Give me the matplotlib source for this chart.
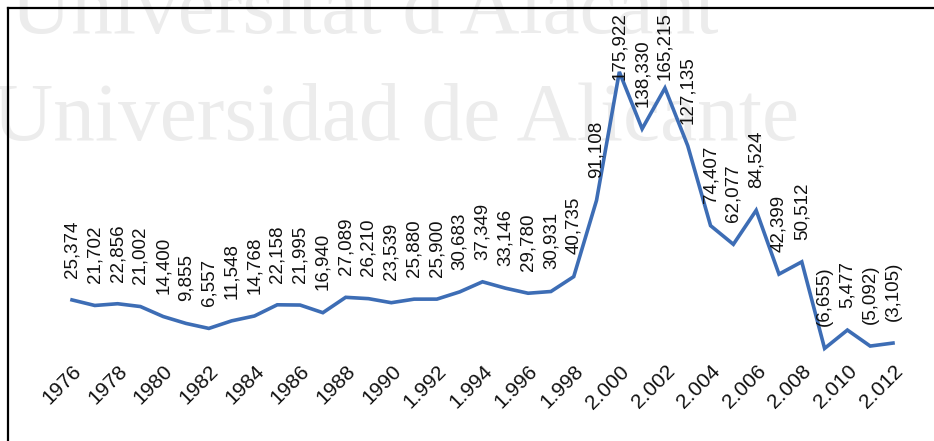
import matplotlib
matplotlib.use("Agg")
import matplotlib.pyplot as plt
from matplotlib.lines import Line2D

years = list(range(1976, 2013))
values = [25.374, 21.702, 22.856, 21.002, 14.400, 9.855, 6.557, 11.548, 14.768,
          22.158, 21.995, 16.940, 27.089, 26.210, 23.539, 25.880, 25.900, 30.683,
          37.349, 33.146, 29.780, 30.931, 40.735, 91.108, 175.922, 138.330,
          165.215, 127.135, 74.407, 62.077, 84.524, 42.399, 50.512, -6.655,
          5.477, -5.092, -3.105]
tick_years = list(range(1976, 2013, 2))
tick_labels = ["1976", "1978", "1980", "1982", "1984", "1986", "1988", "1990",
               "1.992", "1.994", "1.996", "1.998", "2.000", "2.002", "2.004",
               "2.006", "2.008", "2.010", "2.012"]


def fmt(v):
    s = f"{abs(v):.3f}".replace(".", ",")
    return f"({s})" if v < 0 else s


W, H = 934, 441
fig = plt.figure(figsize=(W / 100, H / 100), dpi=100)
fig.patch.set_facecolor("white")

# watermark (behind the chart)
wm = dict(family="Liberation Serif", fontsize=60, color="#ececec", zorder=-5)
fig.text(0.012, (H - 33) / H, "Universitat d'Alacant", va="baseline", **wm)
fig.text(-0.008, (H - 140) / H, "Universidad de Alicante", va="baseline", **wm)

ax = fig.add_axes([72 / W, (H - 353.5) / H, (893 - 72) / W, (353.5 - 65.7) / H])
ax.set_zorder(2)
ax.patch.set_alpha(0)
ax.set_xlim(1976, 2012)
ax.set_ylim(-10, 180)
for s in ax.spines.values():
    s.set_visible(False)
ax.set_yticks([])

ax.plot(years, values, color="#3d6db5", lw=2.6, solid_joinstyle="miter",
        clip_on=False, zorder=3)

ax.set_xticks(tick_years)
ax.set_xticklabels(tick_labels, rotation=45, ha="right", va="top",
                   rotation_mode="anchor", family="Liberation Sans",
                   fontsize=15, color="#111111")
ax.tick_params(axis="x", length=0, pad=6)
for lbl in ax.get_xticklabels():
    lbl.set_x(lbl.get_position()[0])

labels = []
for x, v in zip(years, values):
    t = ax.annotate(fmt(v), (x, v), xytext=(0, 16), textcoords="offset points",
                    rotation=90, ha="center", va="bottom",
                    family="Liberation Sans", fontsize=13.5, color="#111111",
                    zorder=4, annotation_clip=False)
    labels.append(t)

# keep labels inside the chart area (top limit), like the original
fig.canvas.draw()
r = fig.canvas.get_renderer()
top_px = H - 12
for t in labels:
    bb = t.get_window_extent(r)
    if bb.y1 > top_px:
        dy = (bb.y1 - top_px) * 72 / 100
        ox, oy = t.xyann
        t.xyann = (ox, oy - dy)

# outer frame (left and top edges)
fig.add_artist(Line2D([8 / W, 8 / W], [0, (H - 8) / H], color="black", lw=1.6,
                      transform=fig.transFigure))
fig.add_artist(Line2D([8 / W, 1], [(H - 8) / H, (H - 8) / H], color="black",
                      lw=1.6, transform=fig.transFigure))

fig.savefig("out.png", dpi=100)
